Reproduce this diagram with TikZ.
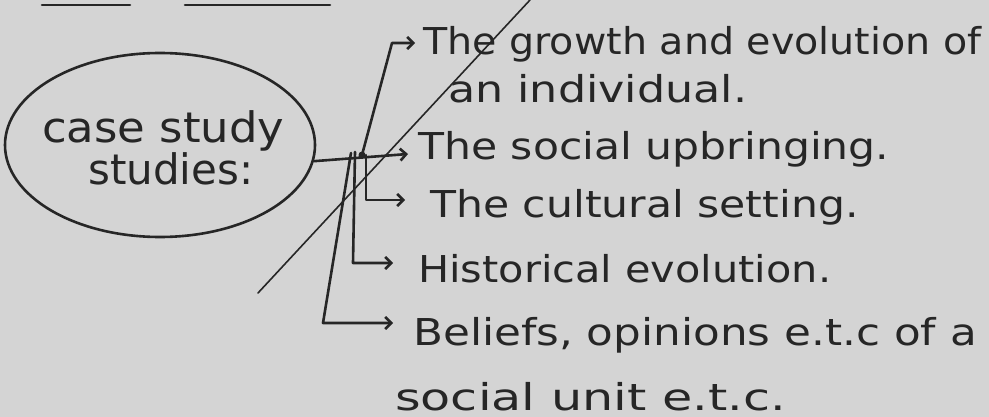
\documentclass[tikz,border=0pt]{standalone}
\usepackage{fontspec}
\usepackage{graphicx}
\setmainfont{DejaVu Sans}
\usetikzlibrary{shapes.geometric,arrows.meta}
\definecolor{paper}{HTML}{D4D4D4}
\definecolor{ink}{HTML}{262626}
\newcommand{\hwtext}[2]{\scalebox{#1}[1]{#2}}
\begin{document}
\begin{tikzpicture}[x=1pt,y=-1pt,
  inkline/.style={draw=ink,line width=2.6pt,line cap=round,line join=round},
  arr/.style={inkline,-{Straight Barb[length=6pt,width=12pt]}},
  lbl/.style={anchor=base west,inner sep=0pt,text=ink,font=\fontsize{37}{40}\selectfont},
  inlbl/.style={lbl,font=\fontsize{42}{44}\selectfont}]
\fill[paper] (0,0) rectangle (989,417);
\useasboundingbox (0,0) rectangle (989,417);
% top rule fragments
\coordinate (r1a) at (42,5);  \coordinate (r1b) at (130,5);
\coordinate (r2a) at (185,5); \coordinate (r2b) at (330,5);
\draw[inkline] (r1a) -- (r1b);
\draw[inkline] (r2a) -- (r2b);
% ellipse
\node[ellipse,draw=ink,line width=2.6pt,minimum width=310pt,minimum height=184pt,inner sep=0pt] (cs) at (160,145) {};
\node[inlbl] (cs1) at (42,143) {\hwtext{1.07}{case study}};
\node[inlbl] (cs2) at (88,185) {\hwtext{1.0}{studies:}};
% labels
\node[lbl] (t1) at (423,55) {\hwtext{1.07}{The growth and evolution of}};
\node[lbl] (t1b) at (448,103) {\hwtext{1.2}{an individual.}};
\node[lbl] (t2) at (418,160) {\hwtext{1.15}{The social upbringing.}};
\node[lbl] (t3) at (430,218) {\hwtext{1.15}{The cultural setting.}};
\node[lbl] (t4) at (418,283) {\hwtext{1.12}{Historical evolution.}};
\node[lbl] (t5) at (413,345) {\hwtext{1.18}{Beliefs, opinions e.t.c of a}};
\node[lbl] (t6) at (395,410) {\hwtext{1.33}{social unit e.t.c.}};
% junction and branches
\coordinate (j) at (362,155);
\coordinate (b1) at (392,43);
\coordinate (b3a) at (366,155); \coordinate (b3) at (366,200);
\coordinate (b4a) at (355,152); \coordinate (b4) at (353,263);
\coordinate (b5a) at (351,153); \coordinate (b5) at (323,323);
\draw[arr] (cs.-6) -- ([shift={(-10pt,6pt)}]t2.base west);
\fill[ink] (j) circle (3.5);
\draw[arr] (j) -- (b1) -- ([xshift=-8pt]b1 -| t1.base west);
\draw[arr] (b3a) -- (b3) -- ([xshift=-25pt]b3 -| t3.base west);
\draw[arr] (b4a) -- (b4) -- ([xshift=-25pt]b4 -| t4.base west);
\draw[arr] (b5a) -- (b5) -- ([xshift=-20pt]b5 -| t5.base west);
% diagonal stroke
\coordinate (d1) at (258,293); \coordinate (d2) at (530,0);
\draw[draw=ink,line width=1.6pt,line cap=round] (d1) -- (d2);
\end{tikzpicture}
\end{document}
